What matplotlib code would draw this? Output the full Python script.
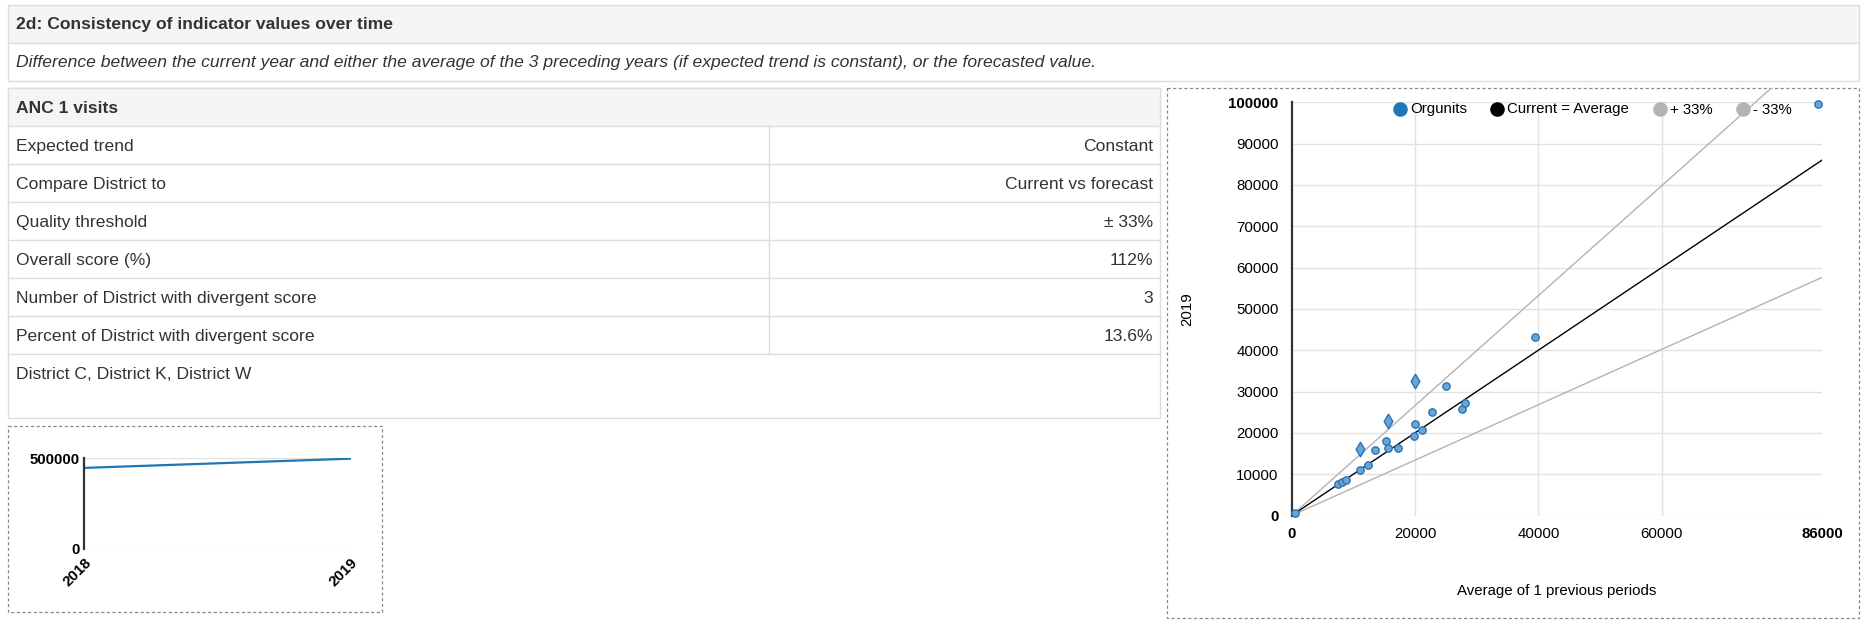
import matplotlib
matplotlib.use('Agg')
import matplotlib.pyplot as plt
from matplotlib.patches import Rectangle

plt.rcParams['font.family'] = ['Liberation Sans', 'DejaVu Sans']

W, H, DPI = 1866, 620, 100

title = '2d: Consistency of indicator values over time'
subtitle = ('Difference between the current year and either the average of the 3 preceding '
            'years (if expected trend is constant), or the forecasted value.')
indicator = 'ANC 1 visits'
row_labels = ['Expected trend', 'Compare District to', 'Quality threshold',
              'Overall score (%)', 'Number of District with divergent score',
              'Percent of District with divergent score']
row_values = ['Constant', 'Current vs forecast', '± 33%', '112%', '3', '13.6%']
divergent_names = 'District C, District K, District W'

# national totals
years = [2018, 2019]
totals = [447000, 498000]

# district values: average of previous period vs current year
avg_prev = [500, 7570, 8220, 8760, 11140, 12430, 13570, 11140, 15350, 15620, 17300,
            15680, 19890, 19950, 21080, 20050, 22700, 24970, 27680, 28110, 39460, 85300]
current = [500, 7520, 8160, 8480, 11120, 12160, 15770, 16090, 18020, 16250, 16330,
           22910, 19220, 22100, 20580, 32520, 24990, 31320, 25790, 27150, 43110, 99600]
divergent = [False, False, False, False, False, False, False, True, False, False, False,
             True, False, False, False, True, False, False, False, False, False, False]
threshold = 0.33
x_max, y_max = 86000, 100000

TXT = '#333333'
BORDER = '#dddddd'
GRID = '#e2e2e2'
FS_TABLE = 12.6
FS_CHART = 10.8


def px_axes(left, top, right, bottom):
    return [left / W, 1 - bottom / H, (right - left) / W, (bottom - top) / H]


fig = plt.figure(figsize=(W / DPI, H / DPI), dpi=DPI)

bg = fig.add_axes([0, 0, 1, 1])
bg.set_xlim(0, W)
bg.set_ylim(H, 0)
bg.axis('off')


def box(x0, y0, x1, y1, face='white', edge=BORDER, ls='-', lw=1.0):
    r = Rectangle((x0, y0), x1 - x0, y1 - y0, facecolor=face, edgecolor=edge,
                  linestyle=ls, linewidth=lw)
    bg.add_patch(r)
    return r


# header boxes
box(8.3, 5, 1859, 43.3, face='#f5f5f5')
box(8.3, 43.3, 1859, 81)
bg.text(16, 24.5, title, fontsize=FS_TABLE, fontweight='bold', color=TXT, va='center')
bg.text(16, 62.5, subtitle, fontsize=FS_TABLE, style='italic', color=TXT, va='center')

# summary table
row_h = 38
t_top, t_left, t_right, t_div = 88.3, 8.3, 1160.3, 768.7
t_bottom = t_top + row_h * (len(row_labels) + 1) + 64
box(t_left, t_top, t_right, t_bottom)
box(t_left, t_top, t_right, t_top + row_h, face='#f5f5f5')
bg.text(16, t_top + row_h / 2 + 1, indicator, fontsize=FS_TABLE, fontweight='bold',
        color=TXT, va='center')
for i, (lab, val) in enumerate(zip(row_labels, row_values)):
    y0 = t_top + row_h * (i + 1)
    bg.plot([t_left, t_right], [y0 + row_h, y0 + row_h], color=BORDER, lw=1.0)
    bg.text(16, y0 + row_h / 2 + 1, lab, fontsize=FS_TABLE, color=TXT, va='center')
    bg.text(1153, y0 + row_h / 2 + 1, val, fontsize=FS_TABLE, color=TXT,
            va='center', ha='right')
bg.plot([t_div, t_div], [t_top + row_h, t_top + row_h * (len(row_labels) + 1)],
        color=BORDER, lw=1.0)
bg.text(16, t_top + row_h * (len(row_labels) + 1) + row_h / 2 + 1, divergent_names,
        fontsize=FS_TABLE, color=TXT, va='center')

# dashed chart frames
sc_box = box(1166.5, 88.3, 1859, 617.5, edge='#888888', ls=(0, (2.5, 2)), lw=0.9)
box(8.3, 426, 382.3, 612.3, edge='#888888', ls=(0, (2.5, 2)), lw=0.9)

# ---- scatter: current vs average of previous periods ----
ax = fig.add_axes(px_axes(1291.7, 102.3, 1822, 515.5))
ax.set_xlim(0, x_max)
ax.set_ylim(0, y_max)
for s in ['top', 'right', 'bottom']:
    ax.spines[s].set_visible(False)
ax.spines['left'].set_color('#333333')
ax.spines['left'].set_linewidth(1.6)
ax.set_xticks([0, 20000, 40000, 60000, x_max])
ax.set_yticks(range(0, y_max + 1, 10000))
ax.tick_params(length=0, labelsize=FS_CHART, colors='black')
ax.tick_params(axis='y', pad=9.5)
ax.tick_params(axis='x', pad=8)
for t in [ax.get_xticklabels()[0], ax.get_xticklabels()[-1],
          ax.get_yticklabels()[0], ax.get_yticklabels()[-1]]:
    t.set_fontweight('bold')
for v in [20000, 40000, 60000]:
    ax.axvline(v, color=GRID, lw=1.0, zorder=0)
for v in range(0, y_max + 1, 10000):
    ax.axhline(v, color=GRID, lw=1.0, zorder=0)

for factor, col in [(1 + threshold, '#b3b3b3'), (1 - threshold, '#b3b3b3'), (1.0, 'black')]:
    ln, = ax.plot([0, x_max], [0, factor * x_max], color=col, lw=1.0, zorder=2)
    if factor > 1:
        ln.set_clip_path(sc_box)

xs_n = [x for x, d in zip(avg_prev, divergent) if not d]
ys_n = [y for y, d in zip(current, divergent) if not d]
xs_d = [x for x, d in zip(avg_prev, divergent) if d]
ys_d = [y for y, d in zip(current, divergent) if d]
ax.scatter(xs_n, ys_n, s=28, marker='o', facecolor='#6aa5d6', edgecolor='#2b74b4',
           linewidth=1.0, zorder=3, clip_on=False)
ax.scatter(xs_d, ys_d, s=55, marker='d', facecolor='#6aa5d6', edgecolor='#2b74b4',
           linewidth=1.0, zorder=3, clip_on=False)

ax.set_xlabel('Average of 1 previous periods', fontsize=FS_CHART)
ax.xaxis.set_label_coords(0.5, -0.165)
ax.set_ylabel('2019', fontsize=FS_CHART)
ax.yaxis.set_label_coords(-0.183, 0.5)

# ---- small trend chart ----
ax2 = fig.add_axes(px_axes(84, 458.3, 350.7, 549))
ax2.plot(years, totals, color='#1f77b4', lw=1.6)
ax2.set_xlim(years[0], years[-1])
ax2.set_ylim(0, 500000)
ax2.set_xticks(years)
ax2.set_yticks([0, 500000])
for s in ['top', 'right', 'bottom']:
    ax2.spines[s].set_visible(False)
ax2.spines['left'].set_color('#333333')
ax2.spines['left'].set_linewidth(1.6)
for v in [0, 500000]:
    ax2.axhline(v, color=GRID, lw=1.0, zorder=0)
ax2.tick_params(length=0, labelsize=FS_CHART, colors='black')
ax2.tick_params(axis='y', pad=3)
ax2.tick_params(axis='x', pad=5)
for t in ax2.get_yticklabels():
    t.set_fontweight('bold')
for t in ax2.get_xticklabels():
    t.set_fontweight('bold')
    t.set_rotation(45)
    t.set_ha('right')
    t.set_va('top')
    t.set_rotation_mode('anchor')

# ---- legend of the scatter, drawn on top ----
top = fig.add_axes([0, 0, 1, 1], zorder=10)
top.set_xlim(0, W)
top.set_ylim(H, 0)
top.axis('off')
legend_items = [('Orgunits', '#1f77b4', 1400), ('Current = Average', 'black', 1496.7),
                (f'+ {round(threshold * 100)}%', '#b3b3b3', 1660),
                (f'- {round(threshold * 100)}%', '#b3b3b3', 1742.7)]
for lab, col, lx in legend_items:
    top.plot([lx], [109], marker='o', ms=10.5, color=col, markeredgewidth=0)
    top.text(lx + 10.5, 109.5, lab, fontsize=FS_CHART, color='black', va='center')

fig.savefig('out.png', dpi=DPI)
